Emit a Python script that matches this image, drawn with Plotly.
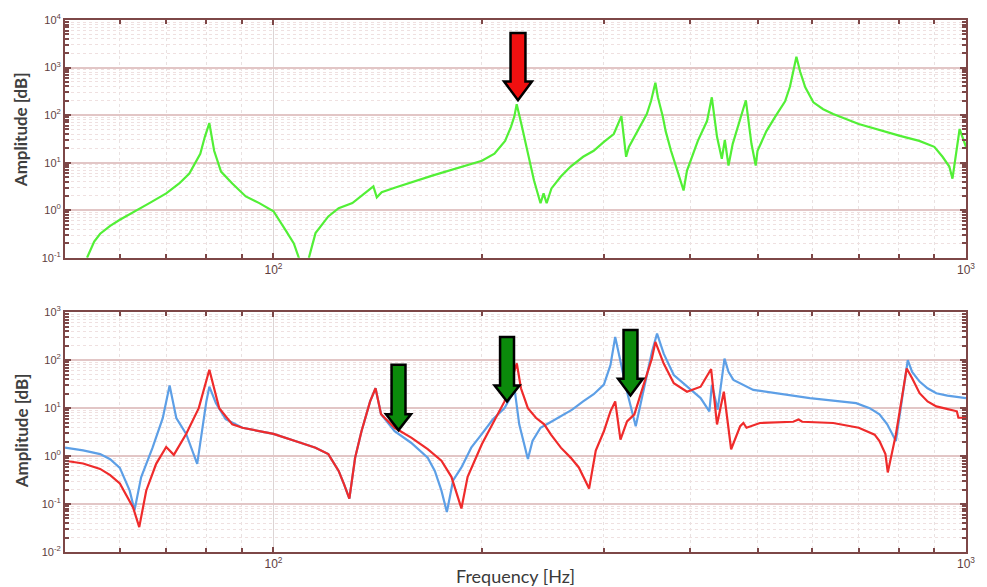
import plotly.graph_objects as go
from plotly.subplots import make_subplots

# ---------------- data ----------------
green_f = [53.8, 55.1, 56.2, 58.1, 60, 62.7, 66.2, 70, 73.1, 75.6, 78.4, 79.6, 80.8, 82.1, 84,
           87.2, 91.2, 95.4, 100, 104.1, 107, 108.8, 110.5,
           112.5, 115, 120, 124.2, 130, 139.4, 141, 143.3, 150, 170, 200, 208.5, 216, 220.2, 222.8,
           224.5, 228, 233, 237.8, 243, 245.5, 248, 252, 260, 268.6, 280, 290, 300, 310, 318, 323,
           326, 332, 340, 346, 351, 356, 359, 365, 368.4, 375, 383, 391, 395.5, 400,
           410, 422.7, 429.5, 437, 444, 448.5, 454, 460.4, 470, 481, 490, 497, 500, 507, 515, 532,
           548, 557, 563, 569, 576, 586, 602, 622, 643, 700, 803, 856, 900, 925, 946, 956, 979, 1000]
green_a = [0.1, 0.22, 0.32, 0.47, 0.63, 0.92, 1.41, 2.26, 3.65, 5.9, 15.4, 35, 68, 17.8, 6.5,
           3.65, 1.95, 1.41, 0.95, 0.38, 0.2, 0.1, 0.05,
           0.1, 0.33, 0.74, 1.1, 1.41, 3.16, 1.87, 2.4, 3.0, 5.4, 11, 15.4, 28.7, 56, 95,
           170, 65, 15.4, 4.2, 1.4, 2.26, 1.4, 2.87, 5.1, 8.3, 13.3, 17.8, 27.4, 40, 95, 13.3,
           21.5, 35, 65, 105, 200, 480, 237, 91, 46, 17.8, 6.8, 2.6, 6.8, 11,
           28.7, 75, 237, 35, 12.1, 30, 8.7, 24.9, 65, 205, 24.9, 8.7, 17.8, 28.7, 46, 100,
           195, 400, 826, 1695, 826, 383, 186, 133, 105, 65, 36.5, 28.7, 21.5, 13.3, 8.3, 4.6, 51, 21.5]

blue_f = [50, 53.1, 56.2, 58.1, 60, 62, 63, 64.4, 66.9, 69.2, 70.8, 72.4, 74.8, 77.6, 80, 80.8,
          82.6, 85.3, 90.2, 95.4, 100, 109.4, 115, 120, 124.2, 126.3, 128.7, 131.2, 134, 137.9,
          140.4, 143, 149.6, 158, 167, 171, 174.8, 178, 181.7, 186.8, 193, 200, 207.3, 215.6,
          219.8, 223, 226.4, 233, 236.6, 243, 250, 260, 270, 280, 290, 300, 306.6, 311.5, 324,
          333.5, 346, 352, 358, 366, 378.5, 395.5, 413.8, 426, 429.6, 438, 448, 454, 461.5, 493,
          595, 694, 726, 750, 769.6, 792, 824, 836, 857, 880, 906, 940, 1000]
blue_a = [1.5, 1.32, 1.1, 0.86, 0.57, 0.19, 0.074, 0.36, 1.5, 6.2, 29.6, 6.2, 2.9, 0.69, 13.8, 28,
          12.7, 5.9, 3.9, 3.3, 2.9, 1.9, 1.5, 1.1, 0.49, 0.27, 0.13, 0.93, 3.3, 13.8,
          26, 7.45, 3.3, 1.9, 0.93, 0.49, 0.19, 0.068, 0.31, 0.58, 1.5, 2.9, 5.8, 10,
          16.2, 24, 4.6, 0.87, 2.06, 3.9, 4.9, 6.8, 9.3, 13.8, 19.5, 31, 79, 304, 22,
          4.2, 50, 150, 360, 137, 49, 28, 16.2, 8.6, 30.6, 9.3, 108, 57, 38.8, 24,
          16.2, 12.7, 10, 7.4, 4.6, 2.06, 100, 57, 35.8, 26, 20.5, 18.3, 16.2]

red_f = [50, 53.1, 56.2, 58.1, 60, 62.7, 64, 65.5, 67.7, 70, 71.8, 74.8, 78, 80.8, 83.5, 87.2,
         90.2, 95.4, 100, 109.4, 115, 120, 124.2, 126.3, 128.7, 131.2, 134, 137.9, 140.4, 143,
         149.6, 158.3, 167, 174.8, 180.7, 186.8, 190.7, 200, 207.3, 215.6, 220.2, 224.6, 227.7,
         233, 239.3, 246, 251.6, 260, 268.6, 276, 285.6, 292, 300, 306.6, 311.5, 317, 324, 332,
         346, 352, 356, 366, 378.5, 395.5, 413.8, 428.5, 437, 447, 458, 472, 477, 482, 504, 563,
         573, 580, 643, 700, 738, 750, 765, 771, 792, 821, 836, 857, 880, 906, 935, 970, 975, 1000]
red_a = [0.8, 0.7, 0.54, 0.4, 0.27, 0.085, 0.033, 0.19, 0.69, 1.55, 1.06, 2.9, 10, 63, 10, 4.6,
         3.9, 3.3, 2.9, 1.9, 1.5, 1.1, 0.49, 0.27, 0.13, 0.93, 3.3, 13.8, 26, 7.45,
         3.9, 2.4, 1.4, 0.8, 0.37, 0.081, 0.37, 1.79, 4.6, 13.8, 35.8, 85.5, 26,
         10, 6.3, 4.6, 2.8, 1.5, 0.93, 0.58, 0.21, 1.3, 3.3, 8.6, 13.8, 2.2, 5.3, 7.45,
         50, 110, 240, 85, 33, 22, 28, 65.5, 4.56, 22, 1.39, 4.2, 4.9, 3.9, 4.9, 5.2,
         5.8, 5.2, 4.9, 3.9, 2.8, 2.06, 1.1, 0.456, 2.8, 67.4, 42, 20.5, 13.8, 10.9, 9.8, 8.6, 6.3, 6.3]

x_tickvals = [100, 1000]
x_ticktext = ["10<sup>2</sup>", "10<sup>3</sup>"]
top_exps = [-1, 0, 1, 2, 3, 4]
bot_exps = [-2, -1, 0, 1, 2, 3]

# ---------------- styling ----------------
W, H = 987, 587
ML, MR, MT, MB = 65, 17, 15, 35
PW, PH = W - ML - MR, H - MT - MB
FRAME = "#7d4747"
TICKC = "#5e3e3e"
GREEN = "#52ef36"
BLUE = "#5d9fe6"
RED = "#ef2b2b"


def px(xp):
    return (xp - ML) / PW


def py(yp):
    return (H - MB - yp) / PH


top_dom = [py(255), py(15)]
bot_dom = [py(552), py(310)]

fig = make_subplots(rows=2, cols=1, vertical_spacing=0.1)

fig.add_trace(go.Scatter(x=green_f, y=green_a, mode="lines",
                         line=dict(color=GREEN, width=2.2), showlegend=False), row=1, col=1)
fig.add_trace(go.Scatter(x=blue_f, y=blue_a, mode="lines",
                         line=dict(color=BLUE, width=2.2), showlegend=False), row=2, col=1)
fig.add_trace(go.Scatter(x=red_f, y=red_a, mode="lines",
                         line=dict(color=RED, width=2.2), showlegend=False), row=2, col=1)


def minor_vals(lo, hi):
    vals = []
    for e in range(lo, hi):
        for d in range(2, 10):
            vals.append(d * 10 ** e)
    return vals


def sup(e):
    return "10<sup>%s</sup>" % (str(e) if e >= 0 else "-" + str(-e))


xaxis_common = dict(
    type="log", range=[1.69897, 3], tickmode="array", tickvals=x_tickvals, ticktext=x_ticktext,
    showline=True, linecolor=FRAME, linewidth=2, mirror="ticks",
    ticks="inside", ticklen=5, tickcolor=FRAME, tickwidth=1.5,
    showgrid=True, gridcolor="#dcd4d4", gridwidth=1,
    tickfont=dict(family="Liberation Sans", size=12, color=TICKC),
    minor=dict(tickmode="array", tickvals=[60, 70, 80, 90] + [d * 100 for d in range(2, 10)],
               ticks="inside", ticklen=4, tickcolor=FRAME, showgrid=True,
               gridcolor="#e9e1e1", griddash="dot", gridwidth=1),
    zeroline=False,
)


def yaxis_conf(exps, dom):
    return dict(
        type="log", range=[exps[0], exps[-1]], domain=dom, tickmode="array",
        tickvals=[10 ** e for e in exps], ticktext=[sup(e) for e in exps],
        showline=True, linecolor=FRAME, linewidth=2, mirror="ticks",
        ticks="inside", ticklen=6, tickcolor=FRAME, tickwidth=1.5,
        showgrid=True, gridcolor="#e2c6c6", gridwidth=1.5,
        tickfont=dict(family="Liberation Sans", size=11, color=TICKC),
        minor=dict(tickmode="array", tickvals=minor_vals(exps[0], exps[-1]),
                   ticks="inside", ticklen=4, tickcolor=FRAME, showgrid=True,
                   gridcolor="#efe0e0", griddash="dot", gridwidth=1),
        zeroline=False,
    )


fig.update_layout(
    width=W, height=H, margin=dict(l=ML, r=MR, t=MT, b=MB),
    paper_bgcolor="white", plot_bgcolor="white",
    xaxis=dict(xaxis_common, domain=[0, 1]),
    xaxis2=dict(xaxis_common, domain=[0, 1]),
    yaxis=yaxis_conf(top_exps, top_dom),
    yaxis2=yaxis_conf(bot_exps, bot_dom),
)

# axis titles as annotations
ann_font = dict(family="Lato", size=17, color="#3f3f3f")
fig.add_annotation(text="<b>Amplitude [dB]</b>", xref="paper", yref="paper",
                   x=px(21), y=py(126), textangle=-90, showarrow=False, font=ann_font,
                   xanchor="center", yanchor="middle")
fig.add_annotation(text="<b>Amplitude [dB]</b>", xref="paper", yref="paper",
                   x=px(21), y=py(430), textangle=-90, showarrow=False, font=ann_font,
                   xanchor="center", yanchor="middle")
fig.add_annotation(text="Frequency [Hz]", xref="paper", yref="paper",
                   x=px(517), y=py(576), showarrow=False,
                   font=dict(family="Lato", size=18, color="#3a3a3a"),
                   xanchor="center", yanchor="middle")


# block arrows (pointer annotations), positions in pixels
def block_arrow(cx, top, head_start, tip, hw, hhw, color):
    pts = [(cx - hw, top), (cx + hw, top), (cx + hw, head_start), (cx + hhw, head_start),
           (cx, tip), (cx - hhw, head_start), (cx - hw, head_start)]
    path = "M " + " L ".join("%.5f,%.5f" % (px(a), py(b)) for a, b in pts) + " Z"
    fig.add_shape(type="path", path=path, xref="paper", yref="paper",
                  fillcolor=color, line=dict(color="black", width=2.5), layer="above")


block_arrow(520, 28, 77, 96, 7.5, 14, "#f01010")
block_arrow(400, 363, 413, 429, 7, 12.5, "#0b8a0b")
block_arrow(509, 335, 384, 400, 7, 12.5, "#0b8a0b")
block_arrow(633, 328, 377, 394, 7, 12.5, "#0b8a0b")

fig.write_html("out.html")
